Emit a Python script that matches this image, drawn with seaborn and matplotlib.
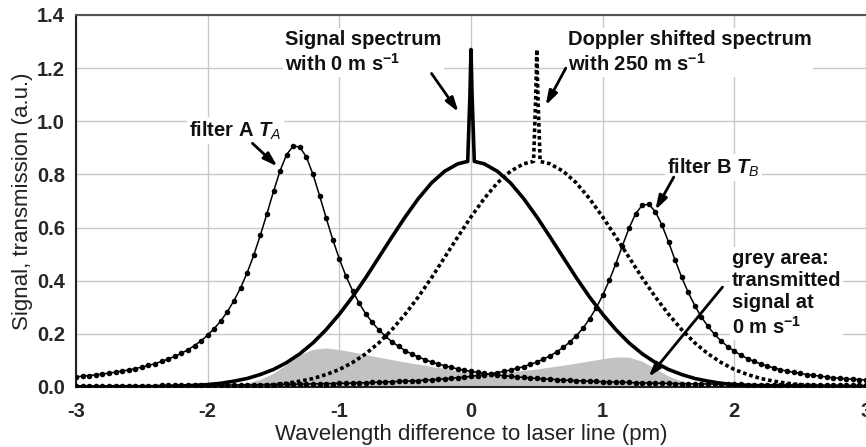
import numpy as np
import pandas as pd
import matplotlib
matplotlib.use("Agg")
import matplotlib.pyplot as plt
import seaborn as sns

# filter transmission curves, sampled every 0.05 pm from -3 to 3
filter_x = np.round(np.linspace(-3, 3, 121), 2)

filter_a = [
    0.038, 0.041, 0.043, 0.046, 0.049, 0.052, 0.056, 0.060, 0.064, 0.069,
    0.075, 0.081, 0.088, 0.096, 0.105, 0.115, 0.127, 0.140, 0.156, 0.174,
    0.195, 0.220, 0.249, 0.284, 0.325, 0.373, 0.430, 0.496, 0.571, 0.652,
    0.736, 0.814, 0.875, 0.907, 0.903, 0.865, 0.800, 0.720, 0.636, 0.555,
    0.482, 0.418, 0.363, 0.316, 0.276, 0.243, 0.215, 0.191, 0.170, 0.153,
    0.137, 0.124, 0.113, 0.103, 0.094, 0.087, 0.080, 0.074, 0.068, 0.063,
    0.059, 0.055, 0.051, 0.048, 0.045, 0.043, 0.040, 0.038, 0.036, 0.034,
    0.032, 0.031, 0.029, 0.028, 0.026, 0.025, 0.024, 0.023, 0.022, 0.021,
    0.020, 0.019, 0.019, 0.018, 0.017, 0.016, 0.016, 0.015, 0.015, 0.014,
    0.014, 0.013, 0.013, 0.012, 0.012, 0.012, 0.011, 0.011, 0.011, 0.010,
    0.010, 0.010, 0.009, 0.009, 0.009, 0.009, 0.008, 0.008, 0.008, 0.008,
    0.008, 0.007, 0.007, 0.007, 0.007, 0.007, 0.007, 0.006, 0.006, 0.006,
    0.006,
]

filter_b = [
    0.004, 0.004, 0.004, 0.004, 0.004, 0.005, 0.005, 0.005, 0.005, 0.005,
    0.005, 0.005, 0.005, 0.006, 0.006, 0.006, 0.006, 0.006, 0.006, 0.007,
    0.007, 0.007, 0.007, 0.007, 0.008, 0.008, 0.008, 0.008, 0.009, 0.009,
    0.009, 0.010, 0.010, 0.010, 0.011, 0.011, 0.012, 0.012, 0.013, 0.013,
    0.014, 0.014, 0.015, 0.016, 0.016, 0.017, 0.018, 0.019, 0.020, 0.021,
    0.022, 0.023, 0.024, 0.026, 0.027, 0.029, 0.031, 0.033, 0.035, 0.037,
    0.040, 0.043, 0.046, 0.050, 0.054, 0.059, 0.064, 0.070, 0.077, 0.085,
    0.094, 0.105, 0.117, 0.132, 0.149, 0.169, 0.193, 0.221, 0.256, 0.297,
    0.345, 0.401, 0.464, 0.532, 0.597, 0.652, 0.684, 0.688, 0.660, 0.610,
    0.546, 0.478, 0.413, 0.356, 0.306, 0.263, 0.228, 0.198, 0.173, 0.152,
    0.135, 0.120, 0.107, 0.096, 0.087, 0.079, 0.072, 0.065, 0.060, 0.055,
    0.051, 0.047, 0.044, 0.041, 0.038, 0.035, 0.033, 0.031, 0.029, 0.028,
    0.026,
]

# spectra, sampled every 0.1 pm, plus the narrow laser spike
spec_x = np.round(np.linspace(-3, 3, 61), 1)

signal = [
    0.000, 0.000, 0.000, 0.000, 0.000, 0.001, 0.001, 0.002, 0.004, 0.006,
    0.009, 0.014, 0.022, 0.032, 0.047, 0.066, 0.092, 0.125, 0.166, 0.216,
    0.274, 0.339, 0.411, 0.488, 0.565, 0.640, 0.709, 0.768, 0.812, 0.840,
    0.850,
    0.840, 0.812, 0.768, 0.709, 0.640, 0.565, 0.488, 0.411, 0.339, 0.274,
    0.216, 0.166, 0.125, 0.092, 0.066, 0.047, 0.032, 0.022, 0.014, 0.009,
    0.006, 0.004, 0.002, 0.001, 0.001, 0.000, 0.000, 0.000, 0.000, 0.000,
]

doppler = [
    0.000, 0.000, 0.000, 0.000, 0.000, 0.000, 0.000, 0.000, 0.000, 0.000,
    0.001, 0.001, 0.002, 0.004, 0.006, 0.009, 0.014, 0.022, 0.032, 0.047,
    0.066, 0.092, 0.125, 0.166, 0.216, 0.274, 0.339, 0.411, 0.488, 0.565,
    0.640, 0.709, 0.768, 0.812, 0.840, 0.850, 0.840, 0.812, 0.768, 0.709,
    0.640, 0.565, 0.488, 0.411, 0.339, 0.274, 0.216, 0.166, 0.125, 0.092,
    0.066, 0.047, 0.032, 0.022, 0.014, 0.009, 0.006, 0.004, 0.002, 0.001,
    0.001,
]

spike_dx = [-0.025, -0.008, 0.0, 0.008, 0.025]
spike_y = [0.849, 1.10, 1.27, 1.10, 0.849]
signal_center = 0.0
doppler_center = 0.5

# grey area: transmitted signal at 0 m/s
grey = [
    0.000, 0.000, 0.000, 0.000, 0.000, 0.000, 0.000, 0.000, 0.000, 0.001,
    0.002, 0.004, 0.008, 0.015, 0.029, 0.052, 0.086, 0.121, 0.142, 0.147,
    0.141, 0.132, 0.122, 0.112, 0.103, 0.094, 0.086, 0.077, 0.070, 0.061,
    0.054, 0.046, 0.050, 0.056, 0.062, 0.068, 0.075, 0.082, 0.090, 0.098,
    0.107, 0.113, 0.112, 0.097, 0.069, 0.041, 0.022, 0.011, 0.006, 0.003,
    0.001, 0.000, 0.000, 0.000, 0.000, 0.000, 0.000, 0.000, 0.000, 0.000,
    0.000,
]


def with_spike(values, center):
    df = pd.DataFrame({"x": spec_x, "y": values})
    df = df[np.abs(df["x"] - center) > 0.05]
    sp = pd.DataFrame({"x": [center + d for d in spike_dx], "y": spike_y})
    return pd.concat([df, sp]).sort_values("x")


sns.set_theme(style="whitegrid")
plt.rcParams["font.family"] = ["Liberation Sans", "DejaVu Sans"]
plt.rcParams["axes.unicode_minus"] = False
plt.rcParams["mathtext.fontset"] = "custom"
plt.rcParams["mathtext.rm"] = "Liberation Sans:bold"
plt.rcParams["mathtext.it"] = "Liberation Sans:italic"
plt.rcParams["mathtext.bf"] = "Liberation Sans:bold"
plt.rcParams["mathtext.bfit"] = "Liberation Sans:italic:bold"

fig = plt.figure(figsize=(8.66, 4.47), dpi=100)
ax = fig.add_axes([76 / 866, 60 / 447, 790 / 866, 372 / 447])

ax.fill_between(spec_x, grey, color="#c2c2c2", lw=0, zorder=1)

df_a = pd.DataFrame({"x": filter_x, "y": filter_a})
df_b = pd.DataFrame({"x": filter_x, "y": filter_b})
for df in (df_a, df_b):
    sns.lineplot(data=df, x="x", y="y", ax=ax, color="black", lw=1.1,
                 marker="o", markersize=4, markeredgewidth=0, zorder=3)

sns.lineplot(data=with_spike(signal, signal_center), x="x", y="y", ax=ax,
             color="black", lw=2.6, sort=False, zorder=4)
sns.lineplot(data=with_spike(doppler, doppler_center), x="x", y="y", ax=ax,
             color="black", lw=2.6, linestyle=(0, (1.0, 0.8)), sort=False,
             zorder=4)

ax.set_xlim(-3, 3)
ax.set_ylim(0, 1.4)
ax.set_xticks([-3, -2, -1, 0, 1, 2, 3])
ax.set_yticks(np.round(np.arange(0, 1.41, 0.2), 1))
ax.set_yticklabels([f"{v:.1f}" for v in np.arange(0, 1.41, 0.2)])
ax.tick_params(axis="both", labelsize=14.5, length=5, width=1.2,
               color="#333333", direction="out")
ax.tick_params(axis="x", pad=6)
ax.tick_params(axis="y", pad=3)
for lab in ax.get_xticklabels() + ax.get_yticklabels():
    lab.set_fontweight("bold")
ax.grid(True, color="#c8c8c8", lw=1.0)
ax.set_axisbelow(True)
for side in ("left", "bottom", "top"):
    ax.spines[side].set_visible(True)
    ax.spines[side].set_linewidth(1.5)
ax.spines["left"].set_color("#222222")
ax.spines["bottom"].set_color("#222222")
ax.spines["top"].set_color("#555555")
ax.spines["right"].set_visible(False)

ax.set_xlabel("Wavelength difference to laser line (pm)", fontsize=16,
              color="#222222", labelpad=2)
ax.set_ylabel("Signal, transmission (a.u.)", fontsize=16, color="#222222",
              labelpad=3)

box = dict(facecolor="white", edgecolor="none", pad=1.5)
txt = dict(fontsize=14.5, fontweight="bold", color="#111111", ha="left",
           va="top", bbox=box, zorder=5, linespacing=1.2)
ax.text(-1.41, 1.342, "Signal spectrum\nwith 0 m s$^{-1}$", **txt)
ax.text(0.734, 1.342, "Doppler shifted spectrum\nwith 250 m s$^{-1}$", **txt)
ax.text(-2.14, 1.007, r"filter A $\mathbfit{T}_{\mathit{A}}$", **txt)
ax.text(1.487, 0.868, r"filter B $\mathbfit{T}_{\mathit{B}}$", **txt)
ax.text(1.981, 0.518, "grey area:\ntransmitted\nsignal at\n0 m s$^{-1}$", **txt)

arrow = dict(arrowstyle="-|>,head_length=0.7,head_width=0.22", lw=2.0,
             color="black", shrinkA=0, shrinkB=0)
ax.annotate("", xy=(-1.47, 0.83), xytext=(-1.66, 0.917), arrowprops=arrow, zorder=6)
ax.annotate("", xy=(-0.095, 1.035), xytext=(-0.30, 1.18), arrowprops=arrow, zorder=6)
ax.annotate("", xy=(0.567, 1.06), xytext=(0.72, 1.20), arrowprops=arrow, zorder=6)
ax.annotate("", xy=(1.40, 0.666), xytext=(1.54, 0.79), arrowprops=arrow, zorder=6)
ax.annotate("", xy=(1.35, 0.038), xytext=(1.91, 0.376), arrowprops=arrow, zorder=6)

fig.savefig("out.png", dpi=100)
